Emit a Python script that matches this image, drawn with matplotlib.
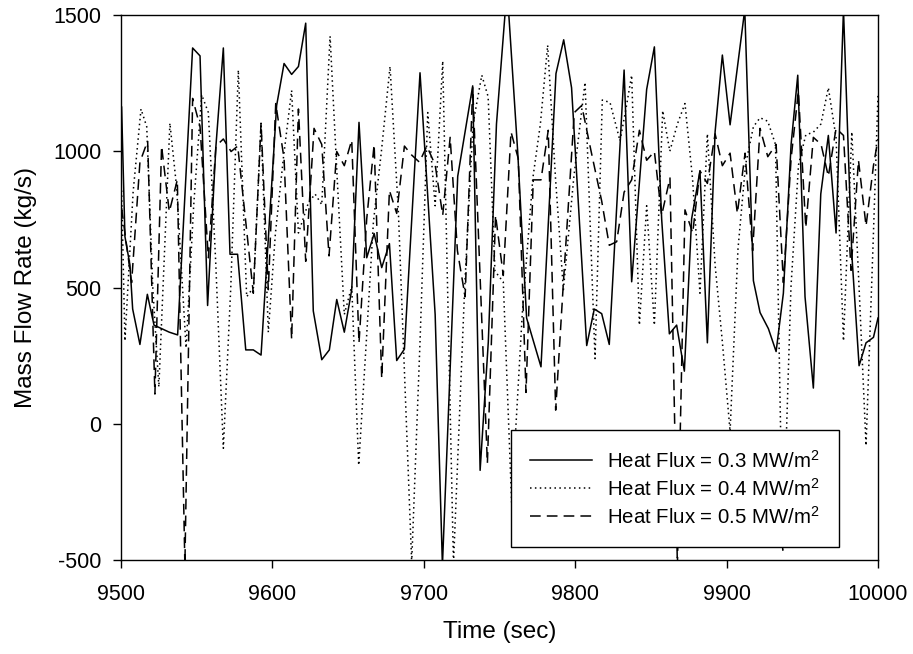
import matplotlib
matplotlib.use("Agg")
import matplotlib.pyplot as plt

plt.rcParams['font.family'] = ['Liberation Sans', 'DejaVu Sans']
plt.rcParams['axes.unicode_minus'] = False
plt.rcParams['mathtext.fontset'] = 'custom'
plt.rcParams['mathtext.rm'] = 'Liberation Sans'
plt.rcParams['mathtext.it'] = 'Liberation Sans'
plt.rcParams['mathtext.bf'] = 'Liberation Sans'

# Heat Flux = 0.3 MW/m2 (solid)
t_03 = [9500.4, 9502.6, 9505.9, 9507.7, 9512.5, 9517.4, 9521.8, 9531.9, 9537.4, 9547.3,
        9552.2, 9557.2, 9562.7, 9567.6, 9572.0, 9577.0, 9582.4, 9587.4, 9592.5, 9602.8,
        9607.7, 9612.7, 9617.2, 9622.0, 9627.0, 9632.6, 9637.6, 9642.5, 9647.5, 9652.4,
        9657.2, 9662.3, 9667.2, 9672.2, 9677.3, 9682.1, 9687.2, 9697.5, 9707.5, 9712.3,
        9722.4, 9732.3, 9737.2, 9742.6, 9748.0, 9755.0, 9762.0, 9767.9, 9777.4, 9787.3,
        9792.4, 9797.6, 9807.6, 9812.6, 9817.5, 9822.5, 9832.3, 9837.3, 9847.2, 9852.3,
        9857.1, 9862.2, 9867.0, 9872.1, 9876.9, 9882.4, 9887.3, 9892.4, 9897.2, 9902.3,
        9912.0, 9917.7, 9922.1, 9927.6, 9932.7, 9937.5, 9942.6, 9947.0, 9951.8, 9957.3,
        9962.2, 9967.2, 9972.3, 9977.2, 9982.7, 9987.5, 9992.1, 9997.0, 10000.0]
v_03 = [1162, 687, 583, 421, 291, 475, 362, 336, 326, 1379,
        1350, 434, 1019, 1379, 622, 622, 271, 271, 252, 1168,
        1322, 1282, 1311, 1470, 414, 235, 271, 456, 336, 492,
        1106, 609, 698, 573, 661, 232, 274, 1288, 401, -520,
        908, 1240, -171, 300, 1100, 1600, 1000, 388, 209, 1285,
        1409, 1233, 287, 421, 404, 291, 1298, 521, 1227, 1383,
        752, 330, 362, 193, 752, 928, 297, 1071, 1353, 1097,
        1520, 525, 408, 349, 265, 479, 1025, 1279, 466, 131,
        843, 1058, 700, 1520, 622, 213, 297, 317, 388]

# Heat Flux = 0.4 MW/m2 (dotted)
t_04 = [9500.4, 9502.6, 9508.0, 9513.2, 9517.0, 9521.0, 9525.0, 9532.3, 9536.7, 9543.0,
        9548.0, 9553.3, 9557.7, 9562.5, 9567.6, 9572.5, 9577.5, 9583.0, 9587.5, 9592.5,
        9597.3, 9602.0, 9607.2, 9612.7, 9617.2, 9623.8, 9628.2, 9632.6, 9638.1, 9642.8,
        9647.5, 9652.4, 9657.0, 9662.0, 9666.7, 9672.0, 9677.7, 9683.2, 9692.0, 9697.5,
        9702.6, 9707.5, 9712.5, 9719.6, 9727.0, 9732.5, 9738.3, 9742.5, 9747.0, 9752.5,
        9758.0, 9765.0, 9772.0, 9777.0, 9781.8, 9787.0, 9792.2, 9799.0, 9806.5, 9813.1,
        9817.9, 9823.0, 9829.6, 9833.5, 9837.3, 9842.4, 9847.2, 9852.3, 9857.8, 9862.5,
        9867.5, 9872.5, 9877.5, 9882.4, 9887.3, 9892.4, 9897.2, 9902.3, 9907.5, 9912.5,
        9917.7, 9922.1, 9927.2, 9932.3, 9937.1, 9942.5, 9947.5, 9952.3, 9957.3, 9962.3,
        9967.2, 9972.3, 9977.2, 9982.7, 9987.5, 9992.1, 9997.0, 10000.0]
v_04 = [856, 304, 850, 1155, 1090, 500, 135, 1103, 869, 278,
        800, 1207, 1142, 600, -90, 500, 1298, 466, 500, 1100,
        336, 700, 972, 1223, 700, 811, 843, 804, 1422, 900,
        401, 505, -152, 300, 739, 1000, 1311, 778, -509, 300,
        1142, 800, 1331, -515, 500, 1100, 1279, 1200, 560, 520,
        -288, 400, 900, 1100, 1389, 900, 492, 900, 1253, 239,
        1188, 1179, 1038, 1155, 1279, 362, 800, 362, 1149, 1000,
        1100, 1175, 900, 479, 1064, 583, 300, -28, 640, 950,
        1090, 1123, 1110, 1025, -470, 500, 950, 1060, 1070, 1100,
        1233, 1050, 304, 1071, 500, -80, 700, 1207]

# Heat Flux = 0.5 MW/m2 (dashed)
t_05 = [9500.4, 9507.0, 9512.5, 9517.6, 9522.4, 9526.8, 9531.9, 9537.2, 9542.2, 9547.3,
        9552.2, 9557.7, 9562.7, 9567.6, 9572.7, 9577.1, 9587.4, 9592.5, 9597.3, 9602.2,
        9607.7, 9612.7, 9617.2, 9622.0, 9627.5, 9632.6, 9637.4, 9642.5, 9647.5, 9652.4,
        9657.2, 9662.3, 9667.2, 9672.2, 9677.3, 9682.1, 9687.2, 9692.0, 9697.1, 9702.0,
        9707.5, 9712.5, 9717.4, 9722.2, 9727.3, 9732.3, 9742.0, 9747.4, 9752.5, 9757.6,
        9762.4, 9767.5, 9772.3, 9777.4, 9782.2, 9787.1, 9792.2, 9799.4, 9804.3, 9810.5,
        9817.5, 9822.5, 9827.4, 9832.3, 9837.3, 9842.4, 9847.2, 9852.3, 9857.1, 9862.6,
        9867.5, 9872.5, 9877.6, 9882.4, 9887.3, 9892.4, 9897.2, 9902.3, 9907.1, 9912.2,
        9917.2, 9922.1, 9927.2, 9932.7, 9937.5, 9942.6, 9947.4, 9952.3, 9957.3, 9962.4,
        9967.2, 9972.3, 9977.2, 9982.2, 9987.1, 9992.1, 9997.0, 10000.0]
v_05 = [791, 518, 960, 1038, 109, 1019, 778, 895, -520, 1194,
        1090, 609, 1019, 1045, 999, 1019, 479, 1103, 492, 1175,
        973, 310, 1155, 596, 1084, 1025, 616, 999, 947, 1041,
        297, 752, 1025, 167, 856, 772, 1019, 986, 960, 1019,
        950, 765, 1051, 635, 466, 1233, -145, 765, 544, 1071,
        973, 115, 895, 895, 1077, 50, 518, 1142, 1168, 1000,
        817, 655, 668, 850, 895, 1077, 967, 999, 765, 902,
        -522, 785, 700, 928, 882, 1064, 947, 993, 772, 993,
        635, 1084, 980, 1025, 518, 973, 1220, 720, 1051, 1025,
        908, 1084, 1058, 563, 967, 726, 947, 1045]

labels = ["Heat Flux = 0.3 MW/m$^2$", "Heat Flux = 0.4 MW/m$^2$", "Heat Flux = 0.5 MW/m$^2$"]
x_ticks = [9500, 9600, 9700, 9800, 9900, 10000]
y_ticks = [-500, 0, 500, 1000, 1500]

fig = plt.figure(figsize=(9.13, 6.54), dpi=100)
ax = fig.add_axes([121/913, 1 - 560/654, (878 - 121)/913, (560 - 15)/654])

ax.plot(t_03, v_03, color='black', lw=1.1, ls='-', label=labels[0])
ax.plot(t_04, v_04, color='black', lw=1.1, ls=(0, (1, 2.2)), label=labels[1])
ax.plot(t_05, v_05, color='black', lw=1.1, ls=(0, (7, 4)), label=labels[2])

ax.set_xlim(9500, 10000)
ax.set_ylim(-500, 1500)
ax.set_xticks(x_ticks)
ax.set_yticks(y_ticks)
ax.tick_params(axis='both', direction='out', length=6, width=1, labelsize=15.5, colors='black')
ax.tick_params(axis='x', pad=11)
ax.tick_params(axis='y', pad=8)
for s in ax.spines.values():
    s.set_linewidth(1.0)
    s.set_color('black')

ax.set_xlabel("Time (sec)", fontsize=17.5, labelpad=12)
ax.set_ylabel("Mass Flow Rate (kg/s)", fontsize=17.5, labelpad=12)

leg = ax.legend(loc='lower right', bbox_to_anchor=(0.9485, 0.024), borderaxespad=0,
                fontsize=14.7, frameon=True, fancybox=False, framealpha=1, edgecolor='black',
                handlelength=3.0, borderpad=0.95, labelspacing=0.3, handletextpad=0.75)
leg.get_frame().set_linewidth(1.0)

fig.savefig("out.png", dpi=100)
